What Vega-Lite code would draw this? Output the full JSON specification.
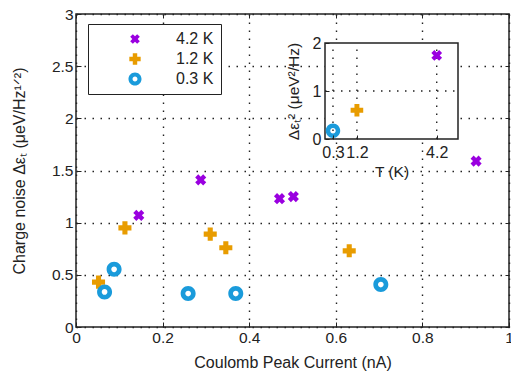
{
  "$schema": "https://vega.github.io/schema/vega-lite/v6.json",
  "autosize": "none",
  "width": 433,
  "height": 313,
  "padding": {"left": 76, "top": 14, "right": 2, "bottom": 44},
  "background": "white",
  "datasets": {
    "main": [
      {"I": 0.145, "N": 1.07, "series": "4.2 K"},
      {"I": 0.288, "N": 1.41, "series": "4.2 K"},
      {"I": 0.47, "N": 1.23, "series": "4.2 K"},
      {"I": 0.502, "N": 1.25, "series": "4.2 K"},
      {"I": 0.924, "N": 1.59, "series": "4.2 K"},
      {"I": 0.052, "N": 0.43, "series": "1.2 K"},
      {"I": 0.113, "N": 0.95, "series": "1.2 K"},
      {"I": 0.31, "N": 0.89, "series": "1.2 K"},
      {"I": 0.346, "N": 0.76, "series": "1.2 K"},
      {"I": 0.631, "N": 0.73, "series": "1.2 K"},
      {"I": 0.066, "N": 0.336, "series": "0.3 K"},
      {"I": 0.088, "N": 0.553, "series": "0.3 K"},
      {"I": 0.259, "N": 0.32, "series": "0.3 K"},
      {"I": 0.369, "N": 0.32, "series": "0.3 K"},
      {"I": 0.704, "N": 0.407, "series": "0.3 K"}
    ],
    "inset": [
      {"T": 0.3, "V": 0.17, "series": "0.3 K"},
      {"T": 1.2, "V": 0.6, "series": "1.2 K"},
      {"T": 4.2, "V": 1.74, "series": "4.2 K"}
    ]
  },
  "config": {
    "font": "Liberation Sans",
    "view": {"stroke": "#222", "strokeWidth": 1.5},
    "axis": {"labelFont": "Liberation Sans", "titleFont": "Liberation Sans", "labelColor": "#222", "titleColor": "#222", "titleFontWeight": "normal", "labelFlush": false, "labelOverlap": false, "domain": false, "tickColor": "#222", "format": "~g"}
  },
  "layer": [
    {
      "data": {"name": "main"},
      "mark": {"type": "point", "filled": true, "size": 225, "strokeWidth": 0, "opacity": 1},
      "encoding": {
        "x": {"field": "I", "type": "quantitative", "scale": {"domain": [0, 1], "nice": false, "zero": false},
          "axis": {"orient": "bottom", "values": [0, 0.2, 0.4, 0.6, 0.8, 1], "title": "Coulomb Peak Current (nA)", "labelFontSize": 15.5, "titleFontSize": 16, "labelPadding": 8, "titlePadding": 9, "tickSize": -5, "grid": true, "gridDash": [1.5, 6.5], "gridColor": "#222", "gridWidth": 1.4}},
        "y": {"field": "N", "type": "quantitative", "scale": {"domain": [0, 3], "nice": false, "zero": false},
          "axis": {"orient": "left", "values": [0, 0.5, 1, 1.5, 2, 2.5, 3], "title": "Charge noise Δεₜ (μeV/Hz¹ᐟ²)", "labelFontSize": 15.5, "titleFontSize": 16, "labelPadding": 8, "titlePadding": 24, "tickSize": -5, "grid": true, "gridDash": [1.5, 6.5], "gridColor": "#222", "gridWidth": 1.4}},
        "fill": {"field": "series", "type": "nominal",
          "scale": {"domain": ["4.2 K", "1.2 K", "0.3 K"], "range": ["#9a00e0", "#e89c00", "#1a9bdb"]},
          "legend": {"orient": "none", "legendX": 12, "legendY": 10, "title": null, "strokeColor": "#222", "fillColor": "white", "padding": 7, "symbolOffset": 32, "labelOffset": 33, "rowPadding": 4, "labelFontSize": 16, "labelFont": "Liberation Sans", "labelColor": "#222", "symbolSize": 170, "symbolStrokeWidth": 0}},
        "shape": {"field": "series", "type": "nominal",
          "scale": {"domain": ["4.2 K", "1.2 K", "0.3 K"], "range": [
            "M0.33,-0.74L0.74,-0.33L0.41,0L0.74,0.33L0.33,0.74L0,0.41L-0.33,0.74L-0.74,0.33L-0.41,0L-0.74,-0.33L-0.33,-0.74L0,-0.41Z",
            "M-0.34,-0.87H0.34V-0.34H0.87V0.34H0.34V0.87H-0.34V0.34H-0.87V-0.34H-0.34Z",
            "M1,0A1,1,0,1,0,-1,0A1,1,0,1,0,1,0Z M0.38,0A0.38,0.38,0,1,1,-0.38,0A0.38,0.38,0,1,1,0.38,0Z"
          ]}}
      }
    },
    {
      "data": {"name": "main"},
      "mark": {"type": "point", "opacity": 0},
      "encoding": {
        "x": {"field": "I", "type": "quantitative", "scale": {"domain": [0, 1], "nice": false, "zero": false},
          "axis": {"orient": "top", "values": [0, 0.2, 0.4, 0.6, 0.8, 1], "title": null, "labels": false, "tickSize": -4, "grid": false}},
        "y": {"field": "N", "type": "quantitative", "scale": {"domain": [0, 3], "nice": false, "zero": false},
          "axis": {"orient": "right", "values": [0, 0.5, 1, 1.5, 2, 2.5, 3], "title": null, "labels": false, "tickSize": -4, "grid": false}}
      }
    },
    {
      "layer": [
        {
          "data": {"values": [{}]},
          "mark": {"type": "rect", "fill": "white", "stroke": "#222", "strokeWidth": 1.5},
          "encoding": {
            "x": {"datum": 0, "type": "quantitative"},
            "x2": {"datum": 5},
            "y": {"datum": 0, "type": "quantitative"},
            "y2": {"datum": 2}
          }
        },
        {
          "data": {"name": "inset"},
          "mark": {"type": "rule", "color": "#222", "strokeDash": [1.5, 6.5], "strokeWidth": 1.4},
          "encoding": {
            "x": {"field": "T", "type": "quantitative"},
            "y": {"datum": 0, "type": "quantitative"},
            "y2": {"datum": 2}
          }
        },
        {
          "data": {"values": [{}]},
          "mark": {"type": "rule", "color": "#222", "strokeDash": [1.5, 6.5], "strokeWidth": 1.4},
          "encoding": {
            "x": {"datum": 0, "type": "quantitative"},
            "x2": {"datum": 5},
            "y": {"datum": 1, "type": "quantitative"}
          }
        },
        {
          "data": {"name": "inset"},
          "mark": {"type": "point", "filled": true, "size": 210, "strokeWidth": 0, "opacity": 1},
          "encoding": {
            "x": {"field": "T", "type": "quantitative", "scale": {"domain": [0, 5], "range": [249, 382], "nice": false, "zero": false},
              "axis": {"orient": "bottom", "offset": -188, "zindex": 1, "values": [0.3, 1.2, 4.2], "title": "T (K)", "labelFontSize": 16, "titleFontSize": 15.5, "labelPadding": 9, "titlePadding": 4, "tickSize": -4, "grid": false}},
            "y": {"field": "V", "type": "quantitative", "scale": {"domain": [0, 2], "range": [125, 29], "nice": false, "zero": false},
              "axis": {"orient": "left", "offset": -249, "zindex": 1, "values": [0, 1, 2], "title": "Δεₜ² (μeV²/Hz)", "labelFontSize": 16, "titleFontSize": 15.5, "labelPadding": 8, "titlePadding": 11, "tickSize": -4, "grid": false}},
            "fill": {"field": "series", "type": "nominal"},
            "shape": {"field": "series", "type": "nominal"}
          }
        }
      ]
    }
  ],
  "resolve": {"scale": {"x": "independent", "y": "independent"}}
}
